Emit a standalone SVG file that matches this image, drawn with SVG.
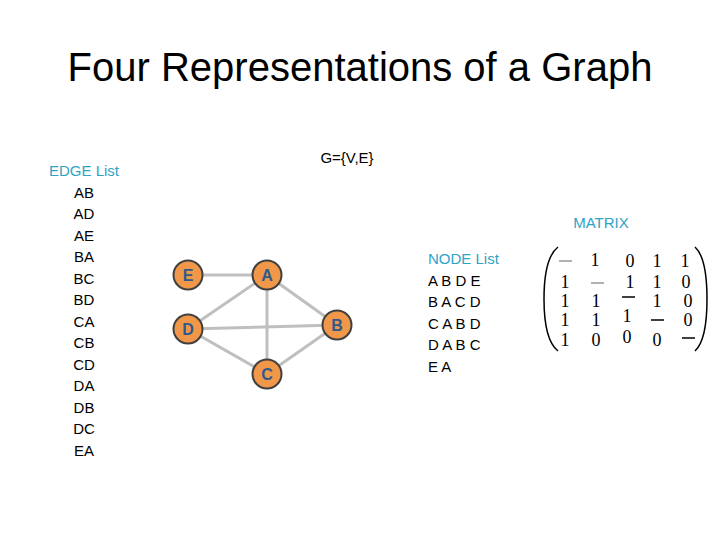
<svg xmlns="http://www.w3.org/2000/svg" width="720" height="540" viewBox="0 0 720 540">
<style>
.t{font-family:"Liberation Sans",Arial,sans-serif;font-size:15px;fill:#000}
.h{font-family:"Liberation Sans",Arial,sans-serif;font-size:15px;fill:#2FA3C6}
.e{stroke:#BFBFBF;stroke-width:3;fill:none}
.n circle{fill:#F0974A;stroke:#404040;stroke-width:2}
.n text{font-family:"Liberation Sans",Arial,sans-serif;font-size:16px;fill:#2E5A8A;text-anchor:middle;font-weight:bold}
.m{font-family:"Liberation Serif","Times New Roman",serif;font-size:18px;fill:#000;text-anchor:middle}
.g{stroke:#999;stroke-width:1.5}
.k{stroke:#000;stroke-width:1.5}
</style>
<rect width="720" height="540" fill="#fff"/>
<text x="360" y="81" font-family="Liberation Sans,Arial,sans-serif" font-size="40" text-anchor="middle" fill="#000">Four Representations of a Graph</text>
<text class="t" x="347" y="163" text-anchor="middle">G={V,E}</text>
<g id="edgelist">
<text class="h" x="84" y="176" text-anchor="middle">EDGE List</text>
<text class="t" x="84" y="198" text-anchor="middle">AB</text>
<text class="t" x="84" y="219" text-anchor="middle">AD</text>
<text class="t" x="84" y="241" text-anchor="middle">AE</text>
<text class="t" x="84" y="262" text-anchor="middle">BA</text>
<text class="t" x="84" y="284" text-anchor="middle">BC</text>
<text class="t" x="84" y="305" text-anchor="middle">BD</text>
<text class="t" x="84" y="327" text-anchor="middle">CA</text>
<text class="t" x="84" y="348" text-anchor="middle">CB</text>
<text class="t" x="84" y="370" text-anchor="middle">CD</text>
<text class="t" x="84" y="391" text-anchor="middle">DA</text>
<text class="t" x="84" y="413" text-anchor="middle">DB</text>
<text class="t" x="84" y="434" text-anchor="middle">DC</text>
<text class="t" x="84" y="456" text-anchor="middle">EA</text>
</g>
<g id="connectors">
<line class="e" x1="188" y1="275" x2="267" y2="275"/>
<line class="e" x1="267" y1="275" x2="188" y2="329"/>
<line class="e" x1="267" y1="275" x2="267" y2="374"/>
<line class="e" x1="267" y1="275" x2="337" y2="325"/>
<line class="e" x1="188" y1="329" x2="337" y2="325"/>
<line class="e" x1="188" y1="329" x2="267" y2="374"/>
<line class="e" x1="267" y1="374" x2="337" y2="325"/>
</g>
<g id="node-E" class="n"><circle cx="188" cy="275" r="14.5"/><text x="188" y="281">E</text></g>
<g id="node-A" class="n"><circle cx="267" cy="275" r="14.5"/><text x="267" y="281">A</text></g>
<g id="node-D" class="n"><circle cx="188" cy="329" r="14.5"/><text x="188" y="335">D</text></g>
<g id="node-B" class="n"><circle cx="337" cy="325" r="14.5"/><text x="337" y="331">B</text></g>
<g id="node-C" class="n"><circle cx="267" cy="374" r="14.5"/><text x="267" y="380">C</text></g>
<g id="nodelist">
<text class="h" x="428" y="264">NODE List</text>
<text class="t" x="428" y="286">A B D E</text>
<text class="t" x="428" y="307">B A C D</text>
<text class="t" x="428" y="329">C A B D</text>
<text class="t" x="428" y="350">D A B C</text>
<text class="t" x="428" y="372">E A</text>
</g>
<text class="h" x="601" y="228" text-anchor="middle">MATRIX</text>
<g id="matrix">
<path d="M558 247 Q544 258 544 299 Q544 340 558 351" fill="none" stroke="#000" stroke-width="1.5"/>
<path d="M695 247 Q707 258 707 299 Q707 340 695 351" fill="none" stroke="#000" stroke-width="1.5"/>
<line class="g" x1="559" y1="261" x2="572" y2="261"/>
<text class="m" x="595" y="266">1</text>
<text class="m" x="630" y="267">0</text>
<text class="m" x="657" y="267">1</text>
<text class="m" x="685" y="267">1</text>
<text class="m" x="565" y="288">1</text>
<line class="g" x1="591" y1="283" x2="604" y2="283"/>
<text class="m" x="630" y="288">1</text>
<text class="m" x="657" y="288">1</text>
<text class="m" x="686" y="288">0</text>
<text class="m" x="565" y="307">1</text>
<text class="m" x="596" y="307">1</text>
<line class="k" x1="622" y1="297" x2="635" y2="297"/>
<text class="m" x="657" y="307">1</text>
<text class="m" x="688" y="307">0</text>
<text class="m" x="565" y="326">1</text>
<text class="m" x="596" y="326">1</text>
<text class="m" x="627" y="322">1</text>
<line class="k" x1="651" y1="320" x2="664" y2="320"/>
<text class="m" x="688" y="326">0</text>
<text class="m" x="565" y="346">1</text>
<text class="m" x="596" y="346">0</text>
<text class="m" x="627" y="343">0</text>
<text class="m" x="657" y="346">0</text>
<line class="k" x1="682" y1="338" x2="695" y2="338"/>
</g>
</svg>
